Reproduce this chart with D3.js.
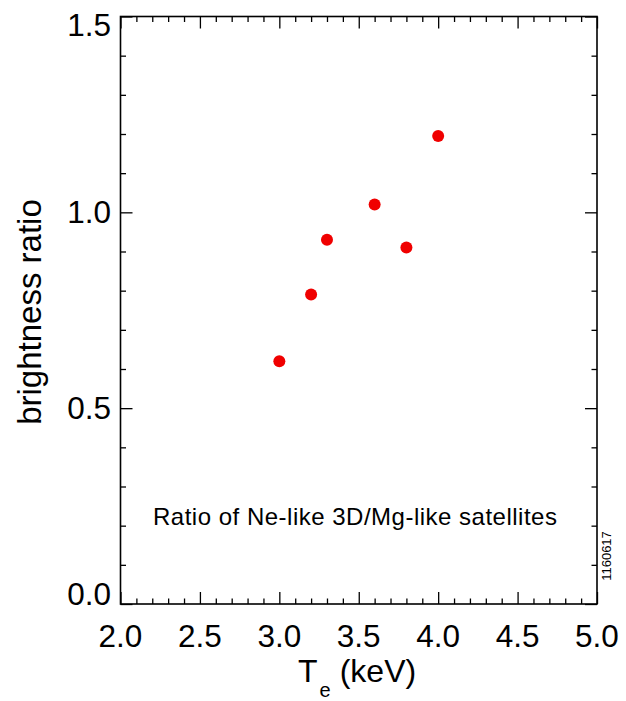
<!DOCTYPE html>
<html>
<head>
<meta charset="utf-8">
<script src="https://cdn.jsdelivr.net/npm/d3@7"></script>
<style>
  html, body { margin: 0; padding: 0; background: #fff; }
  svg { display: block; font-family: "Liberation Sans", Arial, Helvetica, sans-serif; }
</style>
</head>
<body>
<svg id="chart" width="626" height="701"></svg>
<script>
// data
const temps = [3.0, 3.2, 3.3, 3.6, 3.8, 4.0];          // Te (keV)
const ratios = [0.62, 0.79, 0.93, 1.02, 0.91, 1.195];  // brightness ratio
const xMajor = [2.0, 2.5, 3.0, 3.5, 4.0, 4.5, 5.0];
const yMajor = [0.0, 0.5, 1.0, 1.5];
const xDomain = [2, 5];
const yDomain = [0, 1.5];
const note = "Ratio of Ne-like 3D/Mg-like satellites";
const figId = "1160617";

const svg = d3.select("#chart");
const plotL = 120.5, plotR = 597, plotT = 16.5, plotB = 604;

const x = d3.scaleLinear().domain(xDomain).range([plotL, plotR]);
const y = d3.scaleLinear().domain(yDomain).range([plotB, plotT]);

// minor ticks every 0.1
const xMinor = d3.range(21, 50).map(d => d / 10).filter(d => !xMajor.some(m => Math.abs(m - d) < 1e-6));
const yMinor = d3.range(1, 15).map(d => d / 10).filter(d => !yMajor.some(m => Math.abs(m - d) < 1e-6));

function tickAxis(gen, scale, vals, size, transform) {
  const g = svg.append("g")
    .attr("transform", transform)
    .call(gen(scale).tickValues(vals).tickSize(-size).tickFormat(""));
  g.select(".domain").remove();
  g.selectAll("line").attr("stroke", "#000").attr("stroke-width", 1.3);
}

tickAxis(d3.axisBottom, x, xMajor, 12, `translate(0,${plotB})`);
tickAxis(d3.axisBottom, x, xMinor, 5.5, `translate(0,${plotB})`);
tickAxis(d3.axisTop, x, xMajor, 12, `translate(0,${plotT})`);
tickAxis(d3.axisTop, x, xMinor, 5.5, `translate(0,${plotT})`);
tickAxis(d3.axisLeft, y, yMajor, 12, `translate(${plotL},0)`);
tickAxis(d3.axisLeft, y, yMinor, 5.5, `translate(${plotL},0)`);
tickAxis(d3.axisRight, y, yMajor, 12, `translate(${plotR},0)`);
tickAxis(d3.axisRight, y, yMinor, 5.5, `translate(${plotR},0)`);

// frame
svg.append("rect")
  .attr("x", plotL).attr("y", plotT)
  .attr("width", plotR - plotL).attr("height", plotB - plotT)
  .attr("fill", "none").attr("stroke", "#000").attr("stroke-width", 1.6);

// x tick labels
svg.append("g").selectAll("text")
  .data(xMajor)
  .join("text")
    .attr("x", d => x(d))
    .attr("y", 646.5)
    .attr("text-anchor", "middle")
    .attr("font-size", 31.5)
    .text(d => d.toFixed(1));

// y tick labels (ends kept inside the axis like IDL does)
svg.append("g").selectAll("text")
  .data(yMajor)
  .join("text")
    .attr("x", 111)
    .attr("y", d => Math.min(plotB - 10.5, Math.max(plotT + 8.5, y(d))) + 11)
    .attr("text-anchor", "end")
    .attr("font-size", 31.5)
    .text(d => d.toFixed(1));

// axis titles
svg.append("text")
  .attr("transform", `translate(41,312) rotate(-90)`)
  .attr("text-anchor", "middle")
  .attr("font-size", 33)
  .text("brightness ratio");

const xt = svg.append("text")
  .attr("x", 298)
  .attr("y", 682)
  .attr("font-size", 32);
xt.append("tspan").text("T");
xt.append("tspan").attr("font-size", 20).attr("dy", 15).attr("dx", 2).text("e");
xt.append("tspan").attr("dy", -15).attr("dx", 9).text("(keV)");

// annotation
svg.append("text")
  .attr("x", 153)
  .attr("y", 525)
  .attr("font-size", 24)
  .attr("letter-spacing", 0.5)
  .text(note);

svg.append("text")
  .attr("transform", `translate(611,556) rotate(-90)`)
  .attr("text-anchor", "middle")
  .attr("font-size", 13)
  .text(figId);

// points
svg.append("g").selectAll("circle")
  .data(temps.map((t, i) => [t, ratios[i]]))
  .join("circle")
    .attr("cx", d => x(d[0]))
    .attr("cy", d => y(d[1]))
    .attr("r", 6)
    .attr("fill", "#f00000");
</script>
</body>
</html>
